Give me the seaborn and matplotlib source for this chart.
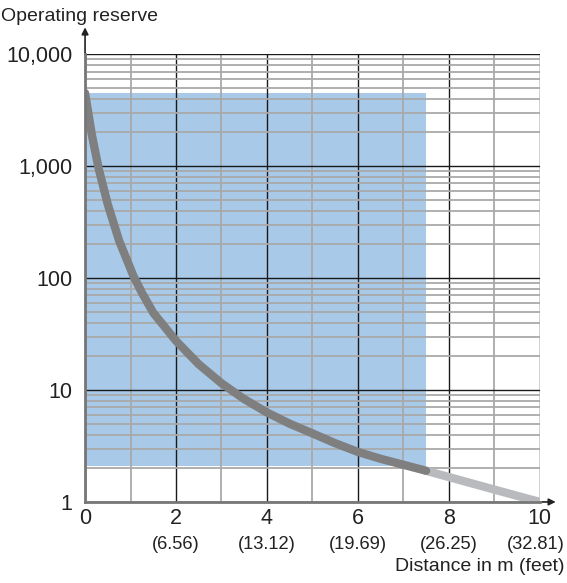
import numpy as np
import pandas as pd
import matplotlib.pyplot as plt
import matplotlib.transforms as mtransforms
from matplotlib.ticker import FixedLocator, NullFormatter
import seaborn as sns

# Curve (distance in m, operating reserve)
distance = [0, 0.15, 0.3, 0.5, 0.75, 1.07, 1.25, 1.5, 2, 2.5, 3, 3.5,
            4, 4.5, 5, 5.5, 6, 6.5, 7, 7.5]
reserve = [4500, 1900, 950, 455, 215, 103, 74, 49, 27.5, 17, 11.5, 8.3,
           6.3, 5.0, 4.1, 3.35, 2.8, 2.43, 2.15, 1.9]
distance_ext = [7.5, 8, 9, 10]
reserve_ext = [1.9, 1.67, 1.29, 1.0]

# Shaded working range
range_x = [0, 7.5]
range_y = [2.1, 4500]

x_ticks = [0, 2, 4, 6, 8, 10]
feet_labels = ["", "(6.56)", "(13.12)", "(19.69)", "(26.25)", "(32.81)"]
y_ticks = [1, 10, 100, 1000, 10000]
y_labels = ["1", "10", "100", "1,000", "10,000"]

sns.set_style("white")
plt.rcParams["font.family"] = ["Liberation Sans", "DejaVu Sans"]

fig = plt.figure(figsize=(5.67, 5.83), dpi=100)
ax = fig.add_axes([0.150, 0.139, 0.802, 0.768])

ax.set_yscale("log")
ax.set_xlim(0, 10)
ax.set_ylim(1, 10000)

ax.fill_between(range_x, range_y[0], range_y[1], color="#a8c9e8", lw=0, zorder=0)

# grid
ax.xaxis.set_major_locator(FixedLocator(x_ticks))
ax.xaxis.set_minor_locator(FixedLocator([1, 3, 5, 7, 9]))
ax.yaxis.set_major_locator(FixedLocator(y_ticks))
minor_y = [m * 10 ** e for e in range(4) for m in range(2, 10)]
ax.yaxis.set_minor_locator(FixedLocator(minor_y))
ax.yaxis.set_minor_formatter(NullFormatter())
ax.set_axisbelow(False)
ax.grid(which="minor", color="#a9a9a9", lw=1.3, zorder=1)
ax.grid(which="major", color="#1a1a1a", lw=1.0, zorder=1.5)

df = pd.DataFrame({"d": distance, "r": reserve})
df_ext = pd.DataFrame({"d": distance_ext, "r": reserve_ext})
sns.lineplot(data=df_ext, x="d", y="r", ax=ax, color="#b9babd", lw=6,
             solid_capstyle="round", zorder=3)
sns.lineplot(data=df, x="d", y="r", ax=ax, color="#7f7f80", lw=6,
             solid_capstyle="round", solid_joinstyle="round", zorder=4)

ax.set_xticks(x_ticks)
ax.set_xticklabels([str(t) for t in x_ticks], fontsize=15.5, color="#222222")
ax.set_yticks(y_ticks)
ax.set_yticklabels(y_labels, fontsize=15.5, color="#222222")
ax.tick_params(which="both", length=0)
ax.tick_params(axis="y", pad=9)
ax.tick_params(axis="x", pad=4)
ax.set_xlabel("")
ax.set_ylabel("")

trans = mtransforms.blended_transform_factory(ax.transData, ax.transAxes)
for x, lab in zip(x_ticks, feet_labels):
    if x == x_ticks[-1]:
        t = trans + mtransforms.ScaledTranslation(0.25, 0, fig.dpi_scale_trans)
        ax.text(x, -0.096, lab, transform=t, ha="right", va="center",
                fontsize=13.2, color="#222222")
    else:
        ax.text(x, -0.096, lab, transform=trans, ha="center", va="center",
                fontsize=13.2, color="#222222")

for s in ["top", "right"]:
    ax.spines[s].set_visible(False)
for s in ["left", "bottom"]:
    ax.spines[s].set_color("#777777")
    ax.spines[s].set_linewidth(2)
    ax.spines[s].set_zorder(5)

# axis arrows
ax.annotate("", xy=(0, 1.06), xytext=(0, 1.0), xycoords="axes fraction",
            arrowprops=dict(arrowstyle="-|>", color="#222222", lw=1.2,
                            mutation_scale=10, shrinkA=0, shrinkB=0))
ax.annotate("", xy=(1.035, 0), xytext=(1.0, 0), xycoords="axes fraction",
            arrowprops=dict(arrowstyle="-|>", color="#222222", lw=1.2,
                            mutation_scale=10, shrinkA=0, shrinkB=0))

fig.text(0.002, 0.971, "Operating reserve", ha="left", va="center",
         fontsize=14, color="#222222")
fig.text(0.995, 0.028, "Distance in m (feet)", ha="right", va="center",
         fontsize=14, color="#222222")

fig.savefig("out.png", dpi=100)
